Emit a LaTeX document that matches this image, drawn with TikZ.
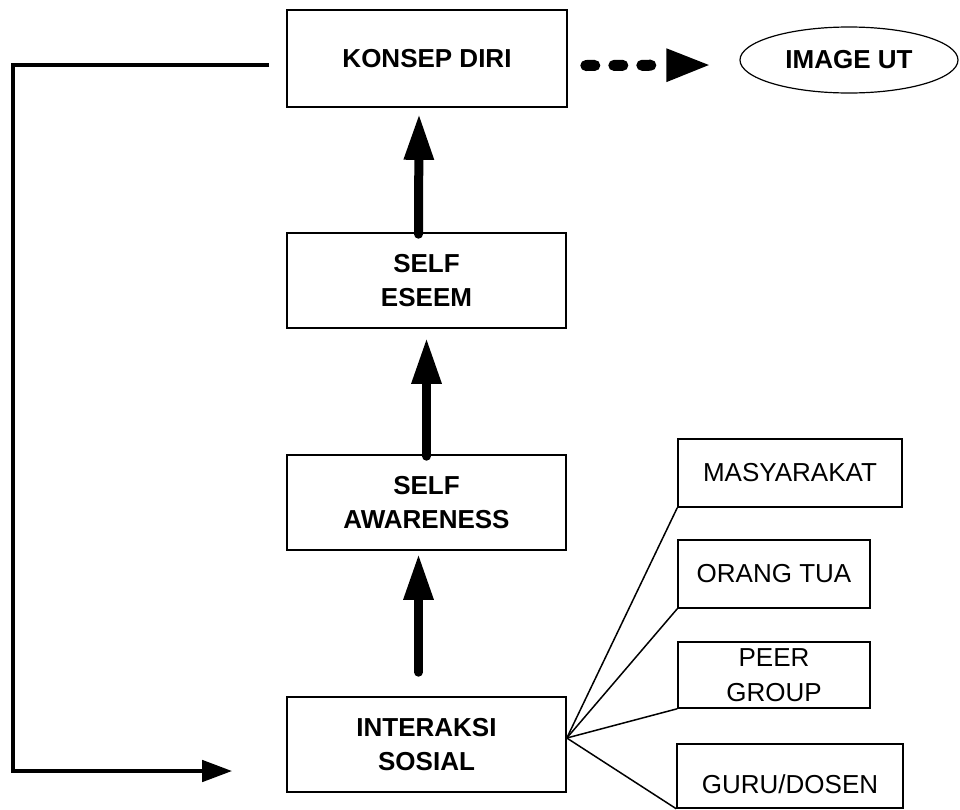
\documentclass[tikz,border=0pt]{standalone}
\usepackage{fontspec}
\setmainfont{Liberation Sans}
\usetikzlibrary{arrows.meta,shapes.geometric}
\tikzset{
  mainbox/.style={draw, line width=1.6pt, rectangle, inner sep=0pt, align=center,
    font=\fontsize{26}{34.5}\selectfont\bfseries},
  sidebox/.style={draw, line width=1.5pt, rectangle, inner sep=0pt, align=center,
    font=\fontsize{26}{34.5}\selectfont},
  ovalbox/.style={draw, line width=1.2pt, ellipse, inner sep=0pt,
    font=\fontsize{26}{34.5}\selectfont\bfseries},
  bigarrow/.style={line width=9pt, line cap=round, -{Triangle[length=46pt,width=28pt]}},
  dashflow/.style={line width=11pt, line cap=round, dash pattern=on 9pt off 19pt,
    -{Triangle[length=45pt,width=30pt]}},
  feedback/.style={line width=4.5pt, line join=miter, -{Triangle[length=30pt,width=21pt]}},
  fanline/.style={line width=1.5pt}
}
\begin{document}
\begin{tikzpicture}[x=1pt,y=-1pt]
\useasboundingbox (0,0) rectangle (960,809);
% main column
\node[mainbox, minimum width=280pt, minimum height=97pt] (kd) at (427,58.5) {KONSEP DIRI};
\node[mainbox, minimum width=279pt, minimum height=95pt] (se) at (426.5,280.5) {SELF\\ESEEM};
\node[mainbox, minimum width=279pt, minimum height=95pt] (sa) at (426.5,502.5) {SELF\\AWARENESS};
\node[mainbox, minimum width=279pt, minimum height=95pt] (is) at (426.5,744.5) {INTERAKSI\\SOSIAL};
% oval
\node[ovalbox, minimum width=218pt, minimum height=66pt] (ie) at (849,60) {IMAGE UT};
% side boxes
\node[sidebox, minimum width=224pt, minimum height=68pt] (ms) at (790,473) {MASYARAKAT};
\node[sidebox, minimum width=192pt, minimum height=68pt] (ot) at (774,574) {ORANG TUA};
\node[sidebox, minimum width=192pt, minimum height=66pt] (pg) at (774,675) {PEER\\GROUP};
\node[sidebox, minimum width=226pt, minimum height=64pt] (gd) at (790,776) {\mbox{}\\GURU/DOSEN};
% upward arrows
\draw[bigarrow] ([xshift=-8pt,yshift=-2pt]se.north) -- ([xshift=-8pt,yshift=-6pt]kd.south);
\draw[bigarrow] ([yshift=-2pt]sa.north) -- ([yshift=-9pt]se.south);
\draw[bigarrow] ([xshift=-8pt,yshift=24pt]is.north) -- ([xshift=-8pt,yshift=-3pt]sa.south);
% dashed arrow
\draw[dashflow] ([xshift=18pt,yshift=-7pt]kd.east) -- ([xshift=-28pt,yshift=-5pt]ie.west);
% feedback loop
\coordinate (c1) at (13,65);
\coordinate (c2) at (13,771);
\draw[feedback] ([xshift=-17pt,yshift=-6.5pt]kd.west) -- (c1) -- (c2) -- ([xshift=-54pt,yshift=-26.5pt]is.west);
% fan lines
\coordinate (fan) at ([yshift=6.5pt]is.east);
\draw[fanline] (fan) -- (ms.south west);
\draw[fanline] (fan) -- (ot.south west);
\draw[fanline] (fan) -- (pg.south west);
\draw[fanline] (fan) -- (gd.south west);
\end{tikzpicture}
\end{document}
